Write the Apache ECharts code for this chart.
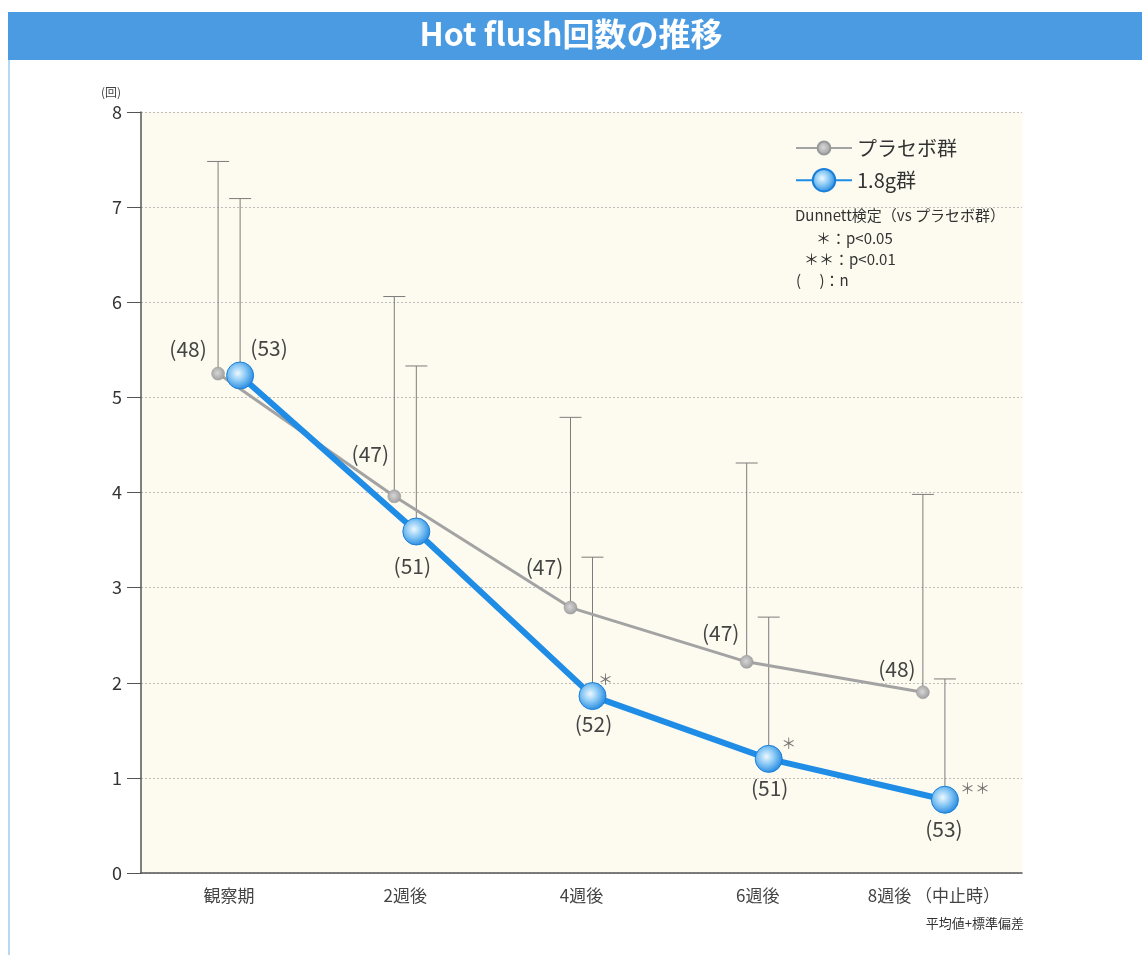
<!DOCTYPE html>
<html>
<head>
<meta charset="utf-8">
<script src="https://cdn.jsdelivr.net/npm/echarts@6/dist/echarts.min.js"></script>
<style>
html,body{margin:0;padding:0;background:#fff;}
#chart{width:1142px;height:955px;}
</style>
</head>
<body>
<div id="chart"></div>
<script>
// ---- data ----
const categories = ['観察期', '2週後', '4週後', '6週後', '8週後 （中止時）'];
const placeboMean = [5.25, 3.96, 2.79, 2.22, 1.90];
const placeboSD   = [2.23, 2.10, 2.00, 2.09, 2.08];
const placeboN    = [48, 47, 47, 47, 48];
const doseMean    = [5.23, 3.59, 1.86, 1.20, 0.77];
const doseSD      = [1.86, 1.74, 1.46, 1.49, 1.27];
const doseN       = [53, 51, 52, 51, 53];
const doseSig     = ['', '', '*', '*', '**'];
const yTicks      = [0, 1, 2, 3, 4, 5, 6, 7, 8];

// ---- styles ----
const FONT = '"Noto Sans CJK JP", "Noto Sans", sans-serif';
const OFF = 0.0625; // horizontal shift of each group from the category centre
const placeboLabelOffset = [[-30, -25], [-24, -42], [-26, -41], [-26, -29], [-26, -23]];
const doseLabelOffset    = [[29, -27], [-4, 35], [1, 28], [1, 29], [-1, 29]];
const sigOffset          = [[0, 0], [0, 0], [13, -17], [20, -16], [30, -11]];

const chart = echarts.init(document.getElementById('chart'), null, {renderer: 'canvas'});

function pts(mean, off) { return mean.map((v, i) => [i + off, v]); }

function errorBar(mean, sd, off) {
  return {
    type: 'custom',
    xAxisIndex: 1,
    z: 1,
    silent: true,
    data: mean.map((v, i) => [i + off, v, v + sd[i]]),
    renderItem: function (params, api) {
      const p = api.coord([api.value(0), api.value(1)]);
      const t = api.coord([api.value(0), api.value(2)]);
      const half = 11;
      return {
        type: 'group',
        children: [
          {type: 'line', shape: {x1: p[0], y1: p[1], x2: t[0], y2: t[1]}, style: {stroke: '#7c7c7c', lineWidth: 1}},
          {type: 'line', shape: {x1: t[0] - half, y1: t[1], x2: t[0] + half, y2: t[1]}, style: {stroke: '#7c7c7c', lineWidth: 1}}
        ]
      };
    }
  };
}

const blueGrad = new echarts.graphic.RadialGradient(0.42, 0.42, 0.62, [
  {offset: 0, color: '#eef8ff'},
  {offset: 0.45, color: '#8ccaf5'},
  {offset: 1, color: '#1c84df'}
]);
const greyGrad = new echarts.graphic.RadialGradient(0.45, 0.45, 0.6, [
  {offset: 0, color: '#d6d6d6'},
  {offset: 1, color: '#9a9a9a'}
]);

const option = {
  backgroundColor: '#ffffff',
  animation: false,
  textStyle: {fontFamily: FONT},
  grid: {left: 141, right: 120, top: 112, bottom: 82, show: true, backgroundColor: '#fdfbef', borderWidth: 0},
  xAxis: [
    {
      type: 'category',
      data: categories,
      boundaryGap: true,
      axisLine: {lineStyle: {color: '#555', width: 1.5}},
      axisTick: {alignWithLabel: true, length: 8, lineStyle: {color: '#555'}},
      axisLabel: {color: '#444', fontSize: 17, margin: 14, fontFamily: FONT},
      splitLine: {show: false}
    },
    {
      type: 'value', min: -0.5, max: 4.5, show: false
    }
  ],
  yAxis: {
    type: 'value', min: yTicks[0], max: yTicks[yTicks.length - 1], interval: 1,
    name: '(回)', nameLocation: 'end', nameGap: 14,
    nameTextStyle: {color: '#444', fontSize: 12, align: 'right', padding: [0, 20, 0, 0], fontFamily: FONT},
    axisLine: {show: true, onZero: false, lineStyle: {color: '#555', width: 1.5}},
    axisTick: {show: true, inside: false, length: 14, lineStyle: {color: '#555'}},
    axisLabel: {color: '#333', fontSize: 18, margin: 19, fontFamily: FONT},
    splitLine: {show: true, lineStyle: {color: '#bdbdbd', type: [2, 2], width: 1}}
  },
  legend: [
    {
      data: ['プラセボ群'], orient: 'vertical', left: 795, top: 138, padding: 0,
      itemWidth: 56, itemHeight: 16, selectedMode: false,
      textStyle: {fontSize: 20, color: '#333', fontFamily: FONT}
    },
    {
      data: ['1.8g群'], orient: 'vertical', left: 795, top: 168, padding: 0,
      itemWidth: 56, itemHeight: 28, selectedMode: false,
      textStyle: {fontSize: 20, color: '#333', fontFamily: FONT}
    }
  ],
  graphic: [
    {type: 'rect', left: 8, top: 12, shape: {width: 1134, height: 48}, style: {fill: '#4b9be2'}, z: 0},
    {type: 'rect', left: 8, top: 60, shape: {width: 2, height: 895}, style: {fill: '#b4daf3'}, z: 0},
    {type: 'text', left: 'center', top: 18, style: {text: 'Hot flush回数の推移', fill: '#ffffff', font: 'bold 32px ' + FONT}},
    {type: 'text', left: 795, top: 208, style: {text: 'Dunnett検定（vs プラセボ群）', fill: '#333', font: '15px ' + FONT}},
    {type: 'text', left: 816, top: 231, style: {text: '＊：p<0.05', fill: '#333', font: '15px ' + FONT}},
    {type: 'text', left: 804, top: 252, style: {text: '＊＊：p<0.01', fill: '#333', font: '15px ' + FONT}},
    {type: 'text', left: 796, top: 273, style: {text: '(　 )：n', fill: '#333', font: '15px ' + FONT}},
    {type: 'text', right: 118, top: 917, style: {text: '平均値+標準偏差', fill: '#333', font: '13px ' + FONT}}
  ],
  series: [
    errorBar(placeboMean, placeboSD, -OFF),
    {
      name: 'プラセボ群', type: 'line', xAxisIndex: 1, z: 3,
      data: pts(placeboMean, -OFF).map((d, i) => ({
        value: d,
        label: {show: true, position: 'inside', offset: placeboLabelOffset[i], formatter: '(' + placeboN[i] + ')',
          color: '#444', fontSize: 21, fontFamily: FONT}
      })),
      symbol: 'circle', symbolSize: 13,
      lineStyle: {color: '#a3a3a3', width: 3},
      itemStyle: {color: greyGrad, borderColor: '#999', borderWidth: 0.5}
    },
    errorBar(doseMean, doseSD, OFF),
    {
      name: '1.8g群', type: 'line', xAxisIndex: 1, z: 4,
      data: pts(doseMean, OFF).map((d, i) => ({
        value: d,
        label: {show: true, position: 'inside', offset: doseLabelOffset[i], formatter: '(' + doseN[i] + ')',
          color: '#444', fontSize: 21, fontFamily: FONT}
      })),
      symbol: 'circle', symbolSize: 27,
      lineStyle: {color: '#1f8ce6', width: 6},
      itemStyle: {color: blueGrad, borderColor: '#1a7fd8', borderWidth: 1}
    },
    {
      type: 'scatter', xAxisIndex: 1, z: 5, silent: true,
      data: pts(doseMean, OFF).map((d, i) => ({
        value: d,
        label: {show: doseSig[i] !== '', position: 'inside', offset: sigOffset[i],
          formatter: doseSig[i].replace(/\*/g, '＊'),
          color: '#555', fontSize: 15, fontFamily: FONT}
      })),
      symbolSize: 1, itemStyle: {color: 'rgba(0,0,0,0)'}
    }
  ]
};
chart.setOption(option);
</script>
</body>
</html>
